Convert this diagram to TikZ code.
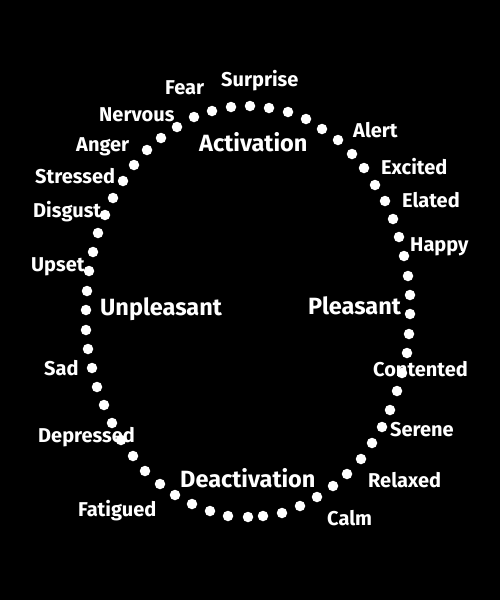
\documentclass[tikz,border=0pt]{standalone}
\usepackage{fontspec}
\setmainfont{Fira Sans}[UprightFont={* Bold}]
\begin{document}
\begin{tikzpicture}[x=1pt,y=-1pt,
  lbl/.style={text=white,anchor=base west,inner sep=0pt,font=\fontsize{20}{22}\selectfont},
  biglbl/.style={text=white,anchor=base west,inner sep=0pt,font=\fontsize{23.5}{26}\selectfont},
  dotc/.style={circle,fill=white,inner sep=0pt,minimum size=10.5pt}]
\fill[black] (0,0) rectangle (500,600);
\useasboundingbox (0,0) rectangle (500,600);
% dots of the circumplex
\foreach \x/\y [count=\i] in {
 250/106,269/108,288/112,306/119,322/129,338/140,352/154,364/168,375/185,385/201,
 393/219,399/237,404/256,408/276,410/295,410/314,409/334,407/353,402/373,397/391,
 390/410,382/427,372/443,361/459,347/474,333/486,317/497,300/506,282/513,263/516,
 248/517,228/516,210/511,192/504,175/495,160/484,145/471,133/456,121/440,112/423,
 104/405,97/387,92/368,88/349,86/330,86/310,87/291,89/271,93/252,98/233,
 105/215,113/198,123/181,134/165,147/150,161/138,177/127,194/117,212/111,231/107}
  \node[dotc] (d\i) at (\x,\y) {};
% axis labels
\node[biglbl] (act) at (199,151) {Activation};
\node[biglbl] (deact) at (180,487) {Deactivation};
\node[biglbl] (unpl) at (100,315) {Unpleasant};
\node[biglbl] (pleas) at (308,314) {Pleasant};
% emotion labels
\node[lbl] (fear) at (165,94) {Fear};
\node[lbl] (surprise) at (221,86) {Surprise};
\node[lbl] (nervous) at (99,121) {Nervous};
\node[lbl] (anger) at (76,151) {Anger};
\node[lbl] (stressed) at (35,183) {Stressed};
\node[lbl] (disgust) at (33,217) {Disgust};
\node[lbl] (upset) at (31,271) {Upset};
\node[lbl] (sad) at (44,375) {Sad};
\node[lbl] (depressed) at (38,442) {Depressed};
\node[lbl] (fatigued) at (78,516) {Fatigued};
\node[lbl] (alert) at (353,137) {Alert};
\node[lbl] (excited) at (381,174) {Excited};
\node[lbl] (elated) at (402,207) {Elated};
\node[lbl] (happy) at (410,251) {Happy};
\node[lbl] (contented) at (373,376) {Contented};
\node[lbl] (serene) at (390,436) {Serene};
\node[lbl] (relaxed) at (368,487) {Relaxed};
\node[lbl] (calm) at (327,525) {Calm};
\end{tikzpicture}
\end{document}
